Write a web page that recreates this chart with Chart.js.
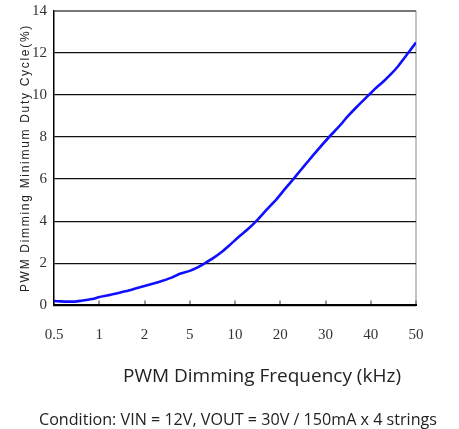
<!DOCTYPE html>
<html><head><meta charset="utf-8">
<script src="https://cdn.jsdelivr.net/npm/chart.js@4"></script>
<style>html,body{margin:0;padding:0;background:#fff}#wrap{width:459px;height:429px}</style>
</head><body><div id="wrap"><canvas id="c" width="459" height="429"></canvas></div>
<script>
// Tick labels of the (evenly spaced) frequency axis
const freqLabels = ['0.5', '1', '2', '5', '10', '20', '30', '40', '50'];
// Position of each curve sample along the frequency axis (tick index units)
const xPos = [0, 0.15, 0.3, 0.46, 0.6, 0.75, 0.9, 1.0, 1.2, 1.4, 1.6, 1.8, 2.0, 2.2, 2.4, 2.6, 2.78, 3.0, 3.15, 3.33, 3.5, 3.74, 3.9, 4.11, 4.3, 4.49, 4.7, 4.92, 5.1, 5.29, 5.45, 5.62, 5.8, 6.08, 6.3, 6.5, 6.7, 6.96, 7.1, 7.28, 7.45, 7.6, 7.83, 8.0];
// Minimum duty cycle (%)
const dutyVals = [0.21, 0.19, 0.18, 0.18, 0.22, 0.27, 0.33, 0.40, 0.48, 0.58, 0.68, 0.80, 0.92, 1.04, 1.17, 1.32, 1.50, 1.64, 1.78, 2.0, 2.22, 2.60, 2.90, 3.31, 3.65, 4.05, 4.55, 5.05, 5.52, 6.0, 6.42, 6.86, 7.32, 8.0, 8.5, 9.0, 9.45, 10.0, 10.3, 10.64, 11.0, 11.35, 12.0, 12.49];
const yMin = 0, yMax = 14, yStep = 2;
const yTitle = 'PWM Dimming Minimum Duty Cycle(%)';
const xTitle = 'PWM Dimming Frequency (kHz)';
const conditionText = 'Condition: VIN = 12V, VOUT = 30V / 150mA x 4 strings';

const shiftPlugin = {
  id: 'shiftTitles',
  afterLayout(chart) {
    chart.boxes.forEach(b => {
      if (b.options && b.options.text === xTitle) { b.left += 45; b.right += 45; }
      if (b.options && b.options.text === conditionText) { b.left += 21; b.right += 21; }
    });
  },
  beforeDraw(chart) {
    const s = chart.scales.y;
    if (s && !s._lsPatched) {
      const orig = s.drawTitle;
      s.drawTitle = function () {
        const c = this.ctx; const prev = c.letterSpacing;
        c.letterSpacing = '1.7px';
        orig.apply(this, arguments);
        c.letterSpacing = prev;
      };
      s._lsPatched = true;
    }
  }
};

new Chart(document.getElementById('c'), {
  type: 'line',
  data: {
    datasets: [{
      data: xPos.map((x, i) => ({ x: x, y: dutyVals[i] })),
      borderColor: '#1010ff',
      borderWidth: 2.6,
      pointRadius: 0,
      tension: 0.2,
      fill: false
    }]
  },
  options: {
    responsive: false,
    animation: false,
    devicePixelRatio: 1,
    layout: { padding: { left: 18, right: 43, top: 0, bottom: 0 } },
    plugins: {
      legend: { display: false },
      tooltip: { enabled: false },
      subtitle: {
        display: true, position: 'bottom', text: xTitle, color: '#222',
        font: { family: 'Open Sans', size: 19, weight: 'normal', lineHeight: 1.2 },
        padding: { top: 23.3, bottom: 25 }
      },
      title: {
        display: true, position: 'bottom', text: conditionText, color: '#222',
        font: { family: 'Open Sans', size: 16.5, weight: 'normal', lineHeight: 1 },
        padding: 0
      }
    },
    scales: {
      x: {
        type: 'linear', min: 0, max: freqLabels.length - 1,
        afterFit: s => { s.height = 36; },
        ticks: {
          stepSize: 1, autoSkip: false, maxRotation: 0, padding: 25.5,
          color: '#333', font: { family: 'Liberation Serif', size: 15 },
          callback: v => freqLabels[v] !== undefined ? freqLabels[v] : ''
        },
        grid: {
          drawOnChartArea: true, drawTicks: true, tickLength: -5,
          color: c => (c.tick && c.tick.value === freqLabels.length - 1) ? '#c4c4c4' : 'rgba(0,0,0,0)',
          lineWidth: 2, tickColor: '#777', tickWidth: 1.5
        },
        border: { display: true, color: '#000', width: 2 }
      },
      y: {
        min: yMin, max: yMax,
        afterFit: s => { s.width = 36; s.paddingTop = 10.7; s.paddingBottom = 0; },
        ticks: {
          stepSize: yStep, padding: 7, color: '#333',
          font: { family: 'Liberation Serif', size: 15 }
        },
        grid: {
          drawTicks: false,
          color: c => (c.tick && c.tick.value === yMax) ? '#777' : '#111',
          lineWidth: c => (c.tick && c.tick.value === yMax) ? 2 : 1.3
        },
        border: { display: true, color: '#000', width: 1.5 },
        title: {
          display: true, text: yTitle, color: '#222',
          font: { family: 'Liberation Sans', size: 12, lineHeight: 1.2 },
          padding: { top: 0, bottom: 0 }
        }
      }
    }
  },
  plugins: [shiftPlugin]
});
</script>
</body></html>
